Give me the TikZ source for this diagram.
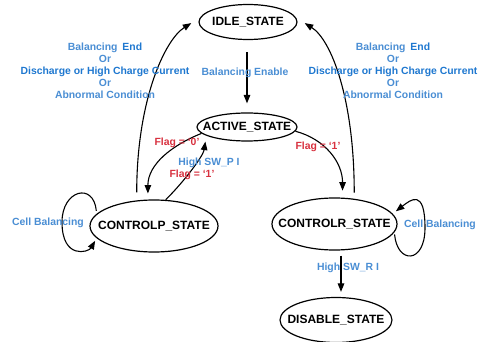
\documentclass[tikz,border=0pt]{standalone}
\usepackage{fontspec}
\setmainfont{Liberation Sans}
\usetikzlibrary{shapes.geometric,arrows.meta}
\definecolor{lblue}{HTML}{4A8ED4}
\definecolor{sblue}{HTML}{1F78D0}
\definecolor{fred}{HTML}{D8313F}
\newcommand\stt[1]{\makebox[0pt]{#1}}
\begin{document}
\begin{tikzpicture}[x=1pt,y=-1pt,
  state/.style={ellipse,draw,line width=1.2pt,inner sep=0pt,font=\fontsize{12}{14}\selectfont\bfseries},
  conn/.style={line width=1.1pt,-{Triangle[length=8.5pt,width=6.5pt]}},
  lbl/.style={font=\fontsize{10.4}{12}\selectfont\bfseries,inner sep=0pt,text=lblue},
  flag/.style={lbl,text=fred}]
\useasboundingbox[fill=white] (0,0) rectangle (480,342);

% states
\node[state,minimum width=98pt,minimum height=35pt]  (idle) at (248,22)    {\stt{IDLE\_STATE}};
\node[state,minimum width=100pt,minimum height=28pt] (act)  at (247,127)   {\stt{ACTIVE\_STATE}};
\node[state,minimum width=128pt,minimum height=52pt] (cp)   at (154,226)   {\stt{CONTROLP\_STATE}};
\node[state,minimum width=125pt,minimum height=52pt] (cr)   at (334.5,224) {\stt{CONTROLR\_STATE}};
\node[state,minimum width=112pt,minimum height=45pt] (dis)  at (336,320)   {\stt{DISABLE\_STATE}};

\coordinate (lpl) at (62,222);
\coordinate (lpr) at (425,228);

% connectors
\draw[conn,shorten <=12pt,shorten >=9pt] (idle.south -| act.north) -- (act.north);
\draw[conn,shorten <=8pt,shorten >=10pt] (cp.124) .. controls +(0,-100) and +(-35,22) .. (idle.175);
\draw[conn,shorten <=6pt,shorten >=10pt] (cr.52) .. controls +(0,-100) and +(35,22) .. (idle.5);
\draw[conn,shorten >=6pt] (act.188) .. controls +(-30,12) and +(0,-35) .. (cp.103);
\draw[conn,shorten >=6pt] (cp.66) .. controls +(20,-20) and +(-3,20) .. (act.192);
\draw[conn,shorten >=7pt] (act.355) .. controls +(30,8) and +(0,-35) .. (cr.73);
\draw[conn,shorten <=5pt,shorten >=5pt] ([xshift=6.5pt]cr.south) -- ([xshift=5pt]dis.north);
\draw[conn,shorten <=3pt,shorten >=3pt] (cp.168) .. controls +(-3,-32) and +(0,-32) .. (lpl)
      .. controls +(0,38) and +(-8,14) .. (cp.192);
\draw[conn,shorten <=2pt,shorten >=4pt] (cr.-8) .. controls +(3,32) and +(0,36) .. (lpr)
      .. controls +(0,-40) and +(18,-14) .. (cr.10);

% labels
\node[lbl,align=center] (ltxt) at (105,71) {Balancing\hspace{2pt} \textcolor{sblue}{End}\\Or\\\textcolor{sblue}{Discharge or High Charge Current}\hspace*{12pt}\\Or\\Abnormal Condition};
\node[lbl,align=center] (rtxt) at (393,71) {Balancing\hspace{2pt} \textcolor{sblue}{End}\\Or\\\textcolor{sblue}{Discharge or High Charge Current}\hspace*{12pt}\\Or\\Abnormal Condition};
\node[lbl] (be)  at (245,73)  {Balancing Enable};
\node[flag] (f0) at (177,143) {Flag = ‘0’};
\node[lbl] (hp)  at (209,163) {High SW\_P I};
\node[flag] (f1) at (192,175) {Flag = ‘1’};
\node[flag] (f1r) at (318,147) {Flag = ‘1’};
\node[lbl] (cbl) at (48,223)  {Cell Balancing};
\node[lbl] (cbr) at (440,225) {Cell Balancing};
\node[lbl] (hr)  at (348,268) {High SW\_R I};
\end{tikzpicture}
\end{document}
